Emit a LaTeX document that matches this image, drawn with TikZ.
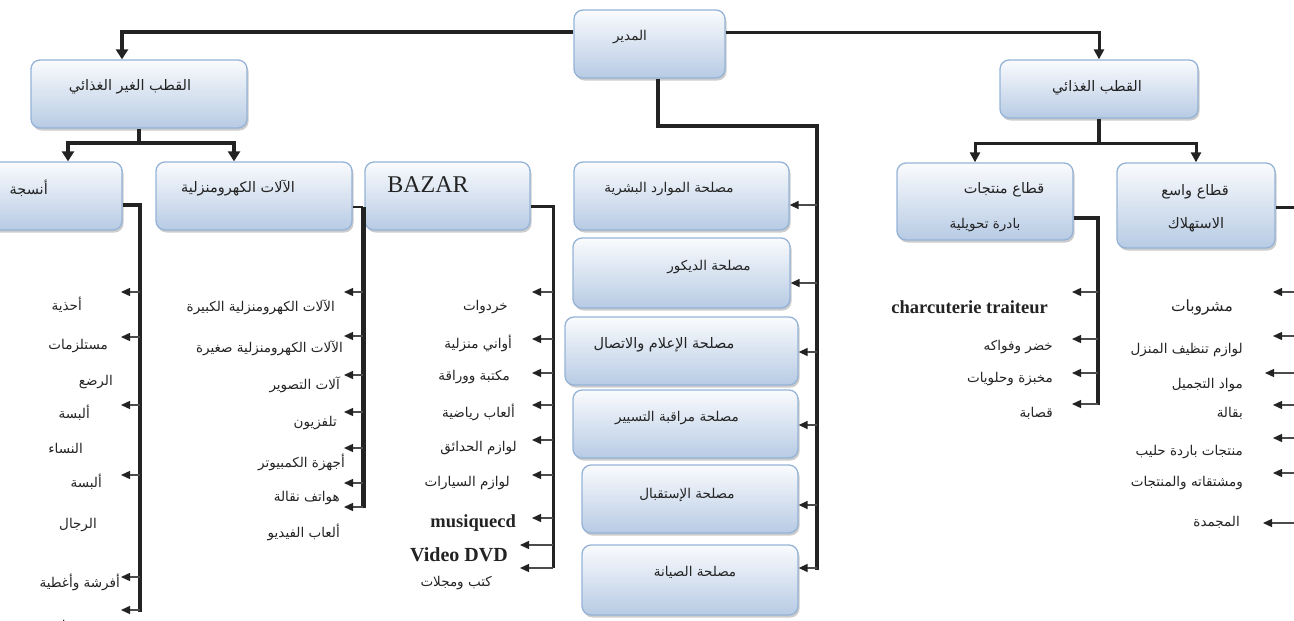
\documentclass[tikz,border=0pt]{standalone}
\usepackage{fontspec}
\setmainfont{Liberation Serif}
\newfontfamily\arabicfont[Script=Arabic]{DejaVu Sans}
\TeXXeTstate=1
\usetikzlibrary{arrows.meta,shadows}

\definecolor{boxtop}{RGB}{250,251,253}
\definecolor{boxbot}{RGB}{183,203,228}
\definecolor{boxedge}{RGB}{149,179,215}
\definecolor{ink}{RGB}{35,35,35}

\newcommand\rtl[1]{\beginR #1\endR}

\tikzset{
  box/.style={draw=boxedge, line width=1.3pt, rounded corners=9pt,
    top color=boxtop, bottom color=boxbot, inner sep=0pt,
    drop shadow={shadow xshift=1.5pt, shadow yshift=-2.5pt, fill=black!50, opacity=0.4}},
  ar/.style={font=\arabicfont\fontsize{13.5}{15}\selectfont, text=ink, inner sep=0pt},
  arbig/.style={font=\arabicfont\fontsize{14.5}{16}\selectfont, text=ink, inner sep=0pt},
  lat/.style={font=\bfseries\fontsize{18.5}{20}\selectfont, text=ink, inner sep=0pt},
  trunk/.style={line width=4pt, ink},
  trunkthin/.style={line width=3pt, ink},
  downtip/.style={-{Triangle[length=10pt,width=12pt]}},
  leaf/.style={line width=1.4pt, black!70, -{Triangle[length=9pt,width=8pt,color=ink]}},
}

\begin{document}
\begin{tikzpicture}[x=1pt,y=-1pt]
\useasboundingbox (0,0) rectangle (1294,621);
\clip (0,0) rectangle (1294,621);

% ---------- boxes ----------
\node[box, minimum width=151pt, minimum height=68pt] (dir)  at (649.5,44) {};
\node[box, minimum width=216pt, minimum height=68pt] (ng)   at (139,94) {};
\node[box, minimum width=198pt, minimum height=58pt] (fd)   at (1099,89) {};
\node[box, minimum width=152pt, minimum height=68pt] (tex)  at (46,196) {};
\node[box, minimum width=196pt, minimum height=68pt] (elec) at (254,196) {};
\node[box, minimum width=165pt, minimum height=68pt] (bzr)  at (447.5,196) {};
\node[box, minimum width=215pt, minimum height=68pt] (hr)   at (681.5,196) {};
\node[box, minimum width=217pt, minimum height=70pt] (deco) at (681.5,273) {};
\node[box, minimum width=233pt, minimum height=68pt] (info) at (681.5,351) {};
\node[box, minimum width=225pt, minimum height=68pt] (ctrl) at (685.5,424) {};
\node[box, minimum width=216pt, minimum height=68pt] (recp) at (690,499) {};
\node[box, minimum width=216pt, minimum height=70pt] (mnt)  at (690,580) {};
\node[box, minimum width=176pt, minimum height=77pt] (cold) at (985,201.5) {};
\node[box, minimum width=158pt, minimum height=85pt] (wide) at (1196,205.5) {};

% ---------- box labels ----------
\node[ar] (dirT)  at (630,37)  {\rtl{المدير}};
\node[arbig] (ngT)   at (130,87)  {\rtl{القطب الغير الغذائي}};
\node[arbig] (fdT)   at (1097,88) {\rtl{القطب الغذائي}};
\node[arbig, anchor=east] (texT) at (48,188) {\rtl{أنسجة}};
\node[arbig] (elecT) at (238,188) {\rtl{الآلات الكهرومنزلية}};
\node[font=\fontsize{24}{26}\selectfont, text=ink, inner sep=0pt] (bzrT) at (428,185) {BAZAR};
\node[ar] (hrT)   at (669,189) {\rtl{مصلحة الموارد البشرية}};
\node[ar] (decoT) at (709,267) {\rtl{مصلحة الديكور}};
\node[arbig] (infoT) at (664,345) {\rtl{مصلحة الإعلام والاتصال}};
\node[ar] (ctrlT) at (677,418) {\rtl{مصلحة مراقبة التسيير}};
\node[ar] (recpT) at (687,495) {\rtl{مصلحة الإستقبال}};
\node[ar] (mntT)  at (695,572) {\rtl{مصلحة الصيانة}};
\node[arbig] (coldT1) at (1004,190) {\rtl{قطاع منتجات}};
\node[ar] (coldT2) at (985,225)  {\rtl{بادرة تحويلية}};
\node[arbig] (wideT1) at (1195,192) {\rtl{قطاع واسع}};
\node[arbig] (wideT2) at (1196,225) {\rtl{الاستهلاك}};

% ---------- director to the two poles ----------
\draw[trunk, downtip] ([yshift=12pt]dir.west) -| ([xshift=-17pt]ng.north);
\draw[trunkthin, -{Triangle[length=10pt,width=10pt]}] ([yshift=12pt]dir.east) -| (fd.north);

% ---------- director to the services ----------
\coordinate (svTop) at (817,126);
\coordinate (svBot) at (817,570);
\draw[line width=4.5pt, ink] ([xshift=8.5pt]dir.south) |- (svTop) -- (svBot);
\foreach \y/\tgt in {205/hr, 283/deco, 352/info, 425/ctrl, 505/recp, 568/mnt}{
  \coordinate (sv-\tgt) at (817,\y);
  \draw[leaf] (sv-\tgt) -- (sv-\tgt -| \tgt.east);
}

% ---------- non-food pole split ----------
\coordinate (ngJ) at (139,143);
\draw[trunk] (ng.south) -- (ngJ);
\draw[trunk, downtip] (ngJ) -| ([xshift=22pt]tex.north);
\draw[trunk, downtip] (ngJ) -| ([xshift=-20pt]elec.north);

% ---------- food pole split ----------
\coordinate (fdJ) at (1099,143);
\draw[trunk] (fd.south) -- (fdJ);
\draw[trunkthin, -{Triangle[length=10pt,width=10pt]}] (fdJ) -| ([xshift=-10pt]cold.north);
\draw[trunkthin, -{Triangle[length=10pt,width=10pt]}] (fdJ) -| (wide.north);

% ---------- textiles list ----------
\coordinate (texA) at (140,205);
\coordinate (texB) at (140,612);
\draw[trunk] (texA -| tex.east) -- (texA) -- (texB);
\foreach \y [count=\k] in {292,337,405,475,577,610}{
  \coordinate (texS\k) at (140,\y);
  \coordinate (texE\k) at (121,\y);
  \draw[leaf] (texS\k) -- (texE\k);
}
\foreach \x/\y/\t [count=\k] in {82/305/أحذية, 108/346/مستلزمات, 113/382/الرضع,
  90/413/ألبسة, 83/448/النساء, 102/482/ألبسة, 97/525/الرجال,
  120/582/أفرشة وأغطية, 112/627/ومفروشات}{
  \node[ar, anchor=east] (texL\k) at (\x,\y) {\rtl{\t}};
}

% ---------- household appliances list ----------
\coordinate (elA) at (363,207);
\coordinate (elB) at (363,508);
\draw[line width=1.4pt, ink] (elA -| elec.east) -- (elA);
\draw[line width=5pt, ink] (elA) -- (elB);
\foreach \y [count=\k] in {292,336,375,412,448,483,507}{
  \coordinate (elS\k) at (363,\y);
  \coordinate (elE\k) at (344,\y);
  \draw[leaf] (elS\k) -- (elE\k);
}
\foreach \x/\y/\t [count=\k] in {335/307/الآلات الكهرومنزلية الكبيرة,
  343/348/الآلات الكهرومنزلية صغيرة, 340/385/آلات التصوير, 337/423/تلفزيون,
  345/462/أجهزة الكمبيوتر, 340/498/هواتف نقالة, 340/532/ألعاب الفيديو}{
  \node[ar, anchor=east] (elL\k) at (\x,\y) {\rtl{\t}};
}

% ---------- bazar list ----------
\coordinate (bzA) at (553,206);
\coordinate (bzB) at (553,568);
\draw[trunkthin] (bzA -| bzr.east) -- (bzA) -- (bzB);
\foreach \y/\tip [count=\k] in {292/532,339/532,373/532,405/532,440/532,475/532,518/532,545/520,568/520}{
  \coordinate (bzS\k) at (553,\y);
  \coordinate (bzE\k) at (\tip,\y);
  \draw[leaf] (bzS\k) -- (bzE\k);
}
\foreach \x/\y/\t [count=\k] in {508/307/خردوات, 512/343/أواني منزلية, 510/377/مكتبة ووراقة,
  515/412/ألعاب رياضية, 517/448/لوازم الحدائق, 510/483/لوازم السيارات, 492/583/كتب ومجلات}{
  \node[ar, anchor=east] (bzL\k) at (\x,\y) {\rtl{\t}};
}
\node[lat, anchor=east] (bzM) at (516,523) {musiquecd};
\node[lat, font=\bfseries\fontsize{20}{22}\selectfont, anchor=east] (bzV) at (508,555) {Video DVD};

% ---------- cold products list ----------
\coordinate (cdA) at (1098,218);
\coordinate (cdB) at (1098,405);
\draw[trunk] (cdA -| cold.east) -- (cdA) -- (cdB);
\foreach \y [count=\k] in {292,339,373,404}{
  \coordinate (cdS\k) at (1098,\y);
  \coordinate (cdE\k) at (1072,\y);
  \draw[leaf] (cdS\k) -- (cdE\k);
}
\node[lat, anchor=east] (cdL0) at (1048,307) {charcuterie traiteur};
\foreach \x/\y/\t [count=\k] in {1053/347/خضر وفواكه, 1053/379/مخبزة وحلويات, 1053/413/قصابة}{
  \node[ar, anchor=east] (cdL\k) at (\x,\y) {\rtl{\t}};
}

% ---------- wide consumption list ----------
\coordinate (wdA) at (1301,207);
\coordinate (wdB) at (1301,523);
\draw[trunkthin] (wdA -| wide.east) -- (wdA) -- (wdB);
\foreach \y/\tip [count=\k] in {292/1273,336/1273,373/1265,405/1273,438/1273,473/1273,523/1263}{
  \coordinate (wdS\k) at (1301,\y);
  \coordinate (wdE\k) at (\tip,\y);
  \draw[leaf] (wdS\k) -- (wdE\k);
}
\node[font=\arabicfont\fontsize{15.5}{17}\selectfont, text=ink, inner sep=0pt, anchor=east] (wdL0) at (1233,308) {\rtl{مشروبات}};
\foreach \x/\y/\t [count=\k] in {1243/350/لوازم تنظيف المنزل, 1243/385/مواد التجميل, 1243/413/بقالة,
  1243/452/منتجات باردة حليب, 1243/483/ومشتقاته والمنتجات, 1240/522/المجمدة}{
  \node[ar, anchor=east] (wdL\k) at (\x,\y) {\rtl{\t}};
}
\end{tikzpicture}
\end{document}
